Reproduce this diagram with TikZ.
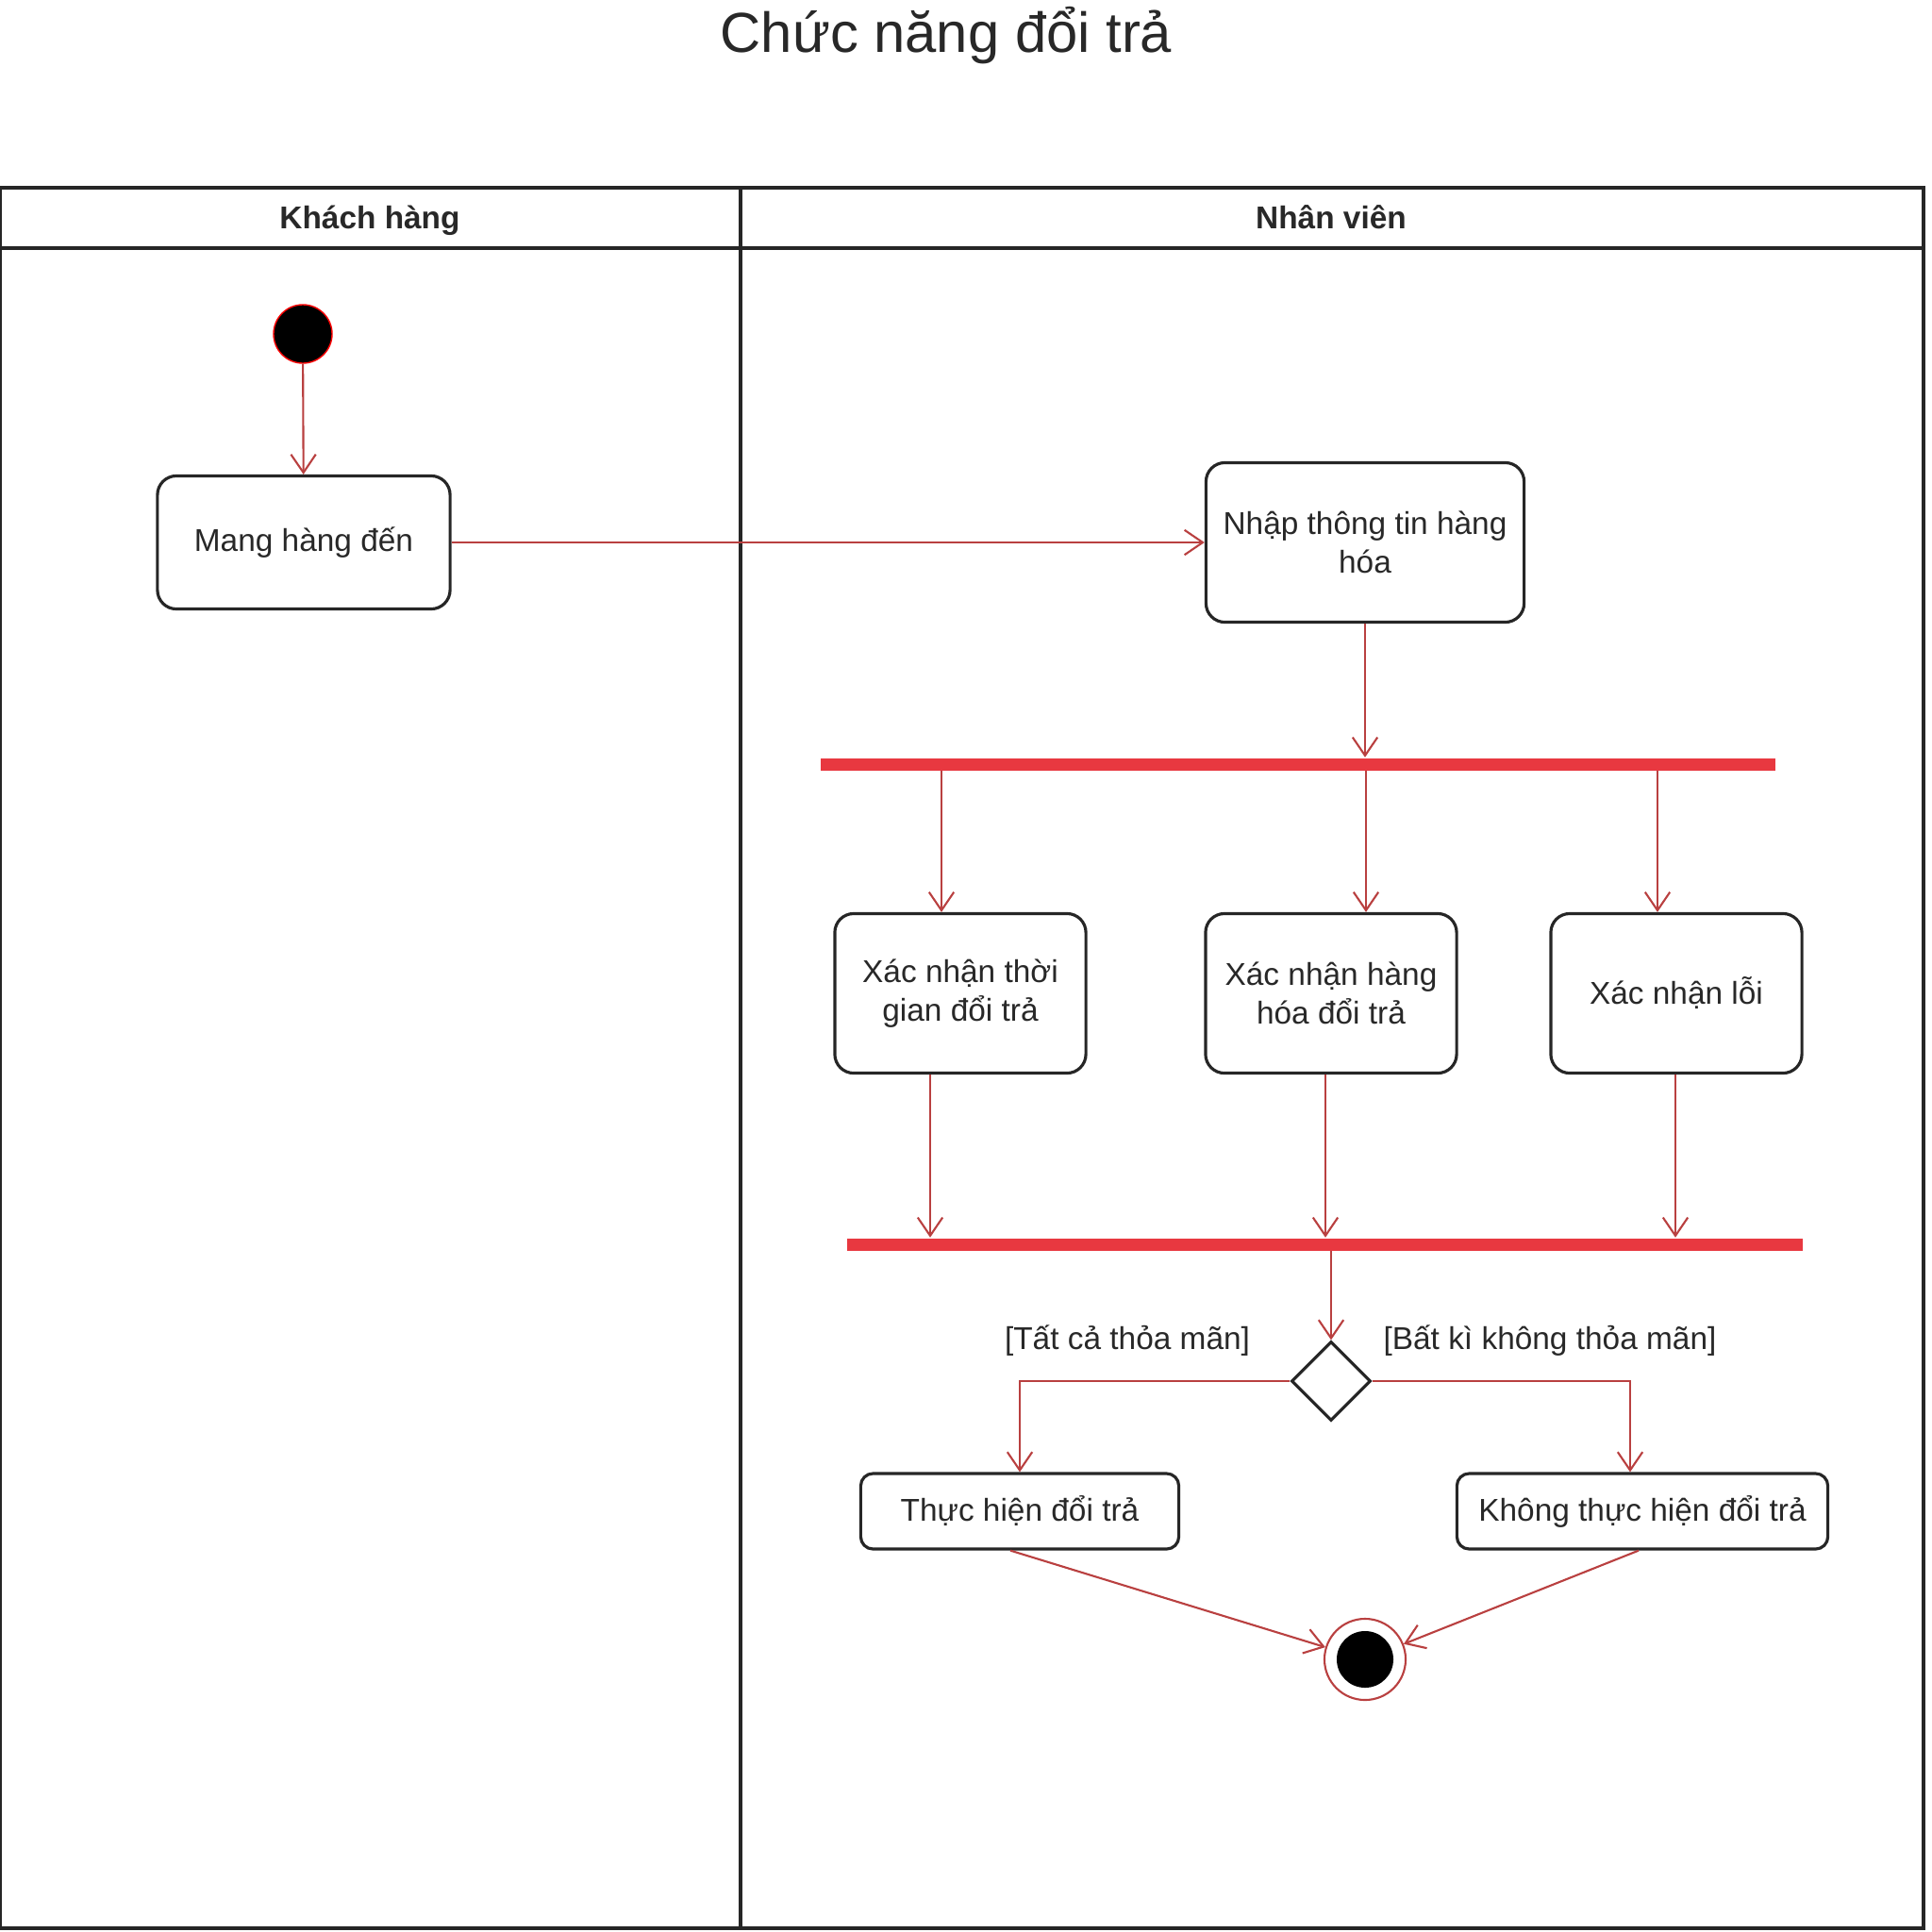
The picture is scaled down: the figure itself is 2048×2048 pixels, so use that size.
\documentclass[tikz,border=0pt]{standalone}
\usepackage{fontspec}
\setmainfont{Liberation Sans}
\usetikzlibrary{arrows.meta,shapes.geometric,calc}
\definecolor{arrred}{RGB}{185,64,64}
\definecolor{barred}{RGB}{232,56,64}
\definecolor{txt}{RGB}{40,40,40}
\begin{document}
\begin{tikzpicture}[x=0.01cm,y=-0.01cm,
  act/.style={draw=black!85, line width=0.9pt, rounded corners=0.2cm, fill=white,
    font=\fontsize{9.5}{11.5}\selectfont, text=txt, align=center, inner sep=0pt},
  arr/.style={draw=arrred, line width=0.6pt, -{Straight Barb[length=5.5pt,width=7.5pt]}},
  syncbar/.style={fill=barred, draw=none, inner sep=0pt, minimum height=0.13cm},
  lane/.style={draw=black!85, line width=1pt},
  lanehead/.style={font=\bfseries\fontsize{9.5}{11}\selectfont, text=txt, anchor=base},
  guard/.style={font=\fontsize{9.5}{11}\selectfont, text=txt},
  ]
\useasboundingbox (0,0) rectangle (2048,2048);
\node[font=\fontsize{17}{20}\selectfont, text=txt, anchor=base] (title) at (1003,55) {Chức năng đổi trả};
% swimlanes
\draw[lane] (0,199) rectangle (2039,2044);
\draw[lane] (0,263) -- (2039,263);
\draw[lane] (785,199) -- (785,2044);
\node[lanehead] (h1) at (392,242) {Khách hàng};
\node[lanehead] (h2) at (1411,242) {Nhân viên};
% nodes
\node[circle, fill=black, draw=red, line width=0.4pt, minimum size=0.62cm, inner sep=0pt] (start) at (321,354) {};
\node[act, minimum width=3.10cm, minimum height=1.41cm] (mang) at (322,575) {Mang hàng đến};
\node[act, minimum width=3.37cm, minimum height=1.69cm] (nhap) at (1447,575) {Nhập thông tin hàng\\hóa};
\node[syncbar, minimum width=10.12cm] (bar1) at (1376,810) {};
\node[act, minimum width=2.66cm, minimum height=1.69cm] (t1) at (1018,1053) {Xác nhận thời\\gian đổi trả};
\node[act, minimum width=2.66cm, minimum height=1.69cm] (t2) at (1411,1053) {Xác nhận hàng\\hóa đổi trả};
\node[act, minimum width=2.66cm, minimum height=1.69cm] (t3) at (1777,1053) {Xác nhận lỗi};
\node[syncbar, minimum width=10.13cm] (bar2) at (1404.5,1319) {};
\node[diamond, draw=black!85, line width=0.9pt, fill=white, minimum width=0.84cm, minimum height=0.84cm, inner sep=0pt] (dec) at (1411,1464) {};
\node[guard] (gyes) at (1195,1421) {[Tất cả thỏa mãn]};
\node[guard] (gno) at (1643,1421) {[Bất kì không thỏa mãn]};
\node[act, rounded corners=0.13cm, minimum width=3.37cm, minimum height=0.80cm] (yes) at (1081,1602) {Thực hiện đổi trả};
\node[act, rounded corners=0.13cm, minimum width=3.93cm, minimum height=0.80cm] (no) at (1741,1602) {Không thực hiện đổi trả};
\node[circle, draw=arrred, line width=0.6pt, fill=white, minimum size=0.86cm, inner sep=0pt,
  path picture={\fill[black] (path picture bounding box.center) circle (0.30cm);}] (end) at (1447,1759) {};
% helper x positions
\coordinate (x1a) at (998,0);
\coordinate (x2a) at (1448,0);
\coordinate (x3a) at (1757,0);
\coordinate (x1b) at (986,0);
\coordinate (x2b) at (1405,0);
\coordinate (x3b) at (1776,0);
\coordinate (xno) at (1728,0);
\coordinate (xnoend) at (1737,0);
\coordinate (xyesend) at (1071,0);
% connectors
\draw[arr] (start) -- (mang);
\draw[arr] (mang.east) -- (nhap.west);
\draw[arr] (nhap.south) -- (nhap.south |- bar1.north);
\draw[arr] (bar1.south -| x1a) -- (t1.north -| x1a);
\draw[arr] (bar1.south -| x2a) -- (t2.north -| x2a);
\draw[arr] (bar1.south -| x3a) -- (t3.north -| x3a);
\draw[arr] (t1.south -| x1b) -- (bar2.north -| x1b);
\draw[arr] (t2.south -| x2b) -- (bar2.north -| x2b);
\draw[arr] (t3.south -| x3b) -- (bar2.north -| x3b);
\draw[arr] (bar2.south -| dec.north) -- (dec.north);
\draw[arr] (dec.west) -| (yes.north);
\draw[arr] (dec.east) -| (no.north -| xno);
\draw[arr] (yes.south -| xyesend) -- (end);
\draw[arr] (no.south -| xnoend) -- (end);
\end{tikzpicture}
\end{document}
